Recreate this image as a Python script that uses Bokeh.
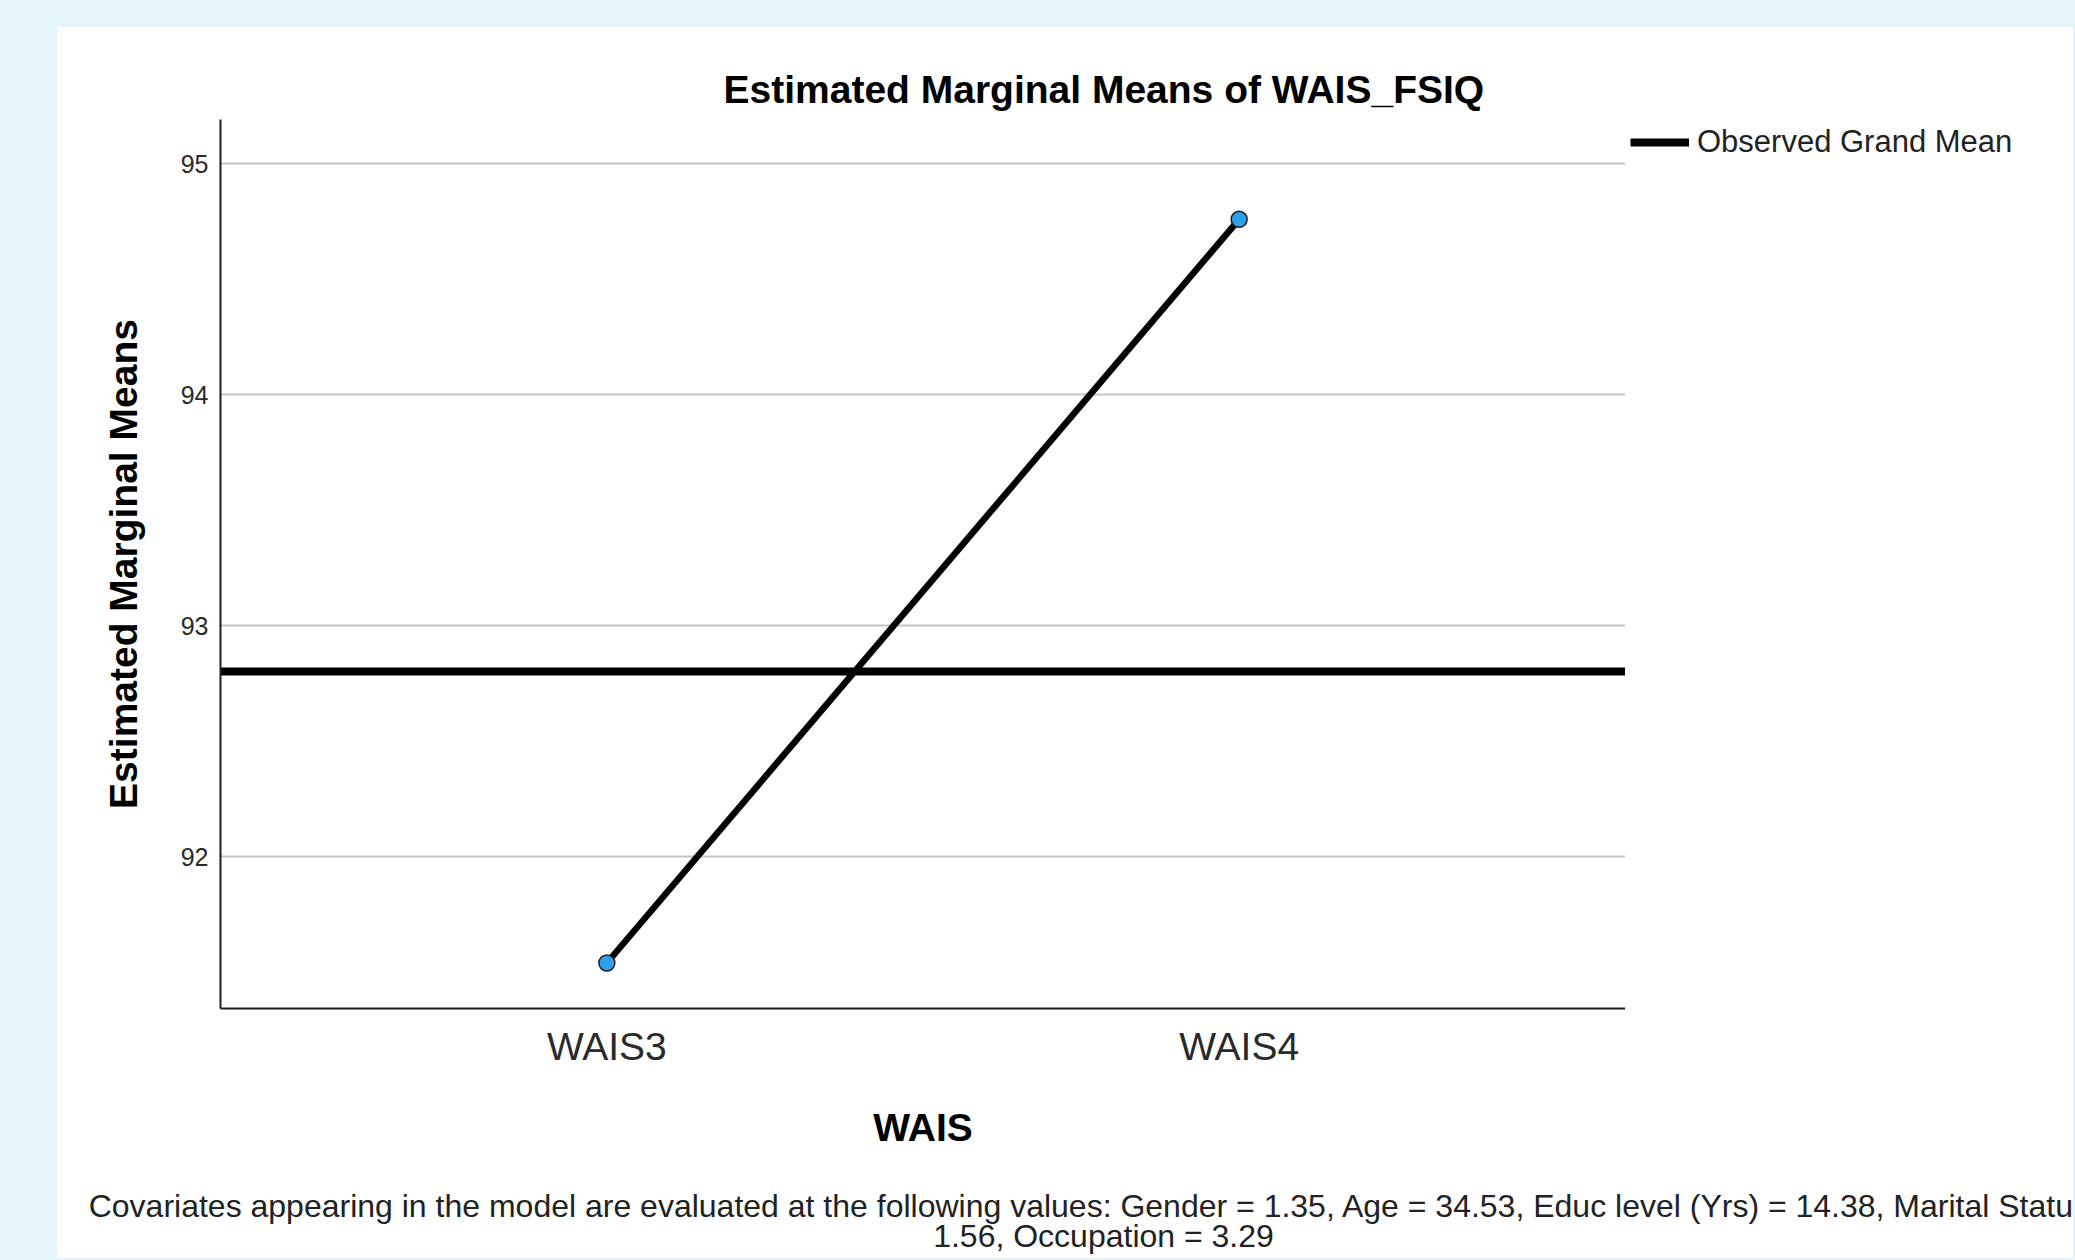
from bokeh.plotting import figure
from bokeh.models import FactorRange, Range1d, Legend, LegendItem, Label, GlobalInlineStyleSheet
from bokeh.layouts import column, row
from bokeh.embed import file_html
from bokeh.resources import INLINE

# ---- data ----
categories = ["WAIS3", "WAIS4"]
means = [91.54, 94.76]
grand_mean = 92.80
y_ticks = [92, 93, 94, 95]
title_text = "Estimated Marginal Means of WAIS_FSIQ"
x_label = "WAIS"
y_label = "Estimated Marginal Means"
legend_label = "Observed Grand Mean"
footer_lines = [
    "Covariates appearing in the model are evaluated at the following values: Gender = 1.35, Age = 34.53, Educ level (Yrs) = 14.38, Marital Status =",
    "1.56, Occupation = 3.29",
]

FONT = "Liberation Sans"
TOTAL_W = 2016
MAIN_W, MAIN_H = 1568, 1140
FOOT_H = 91
BORDER_TOP, BORDER_BOTTOM = 92, MAIN_H - 981

# ---------------- main chart ----------------
main = figure(
    width=MAIN_W, height=MAIN_H,
    x_range=FactorRange(*categories, range_padding=0.111),
    y_range=Range1d(91.343, 95.192),
    output_backend="svg", toolbar_location=None,
    min_border_left=163, min_border_right=0, min_border_top=BORDER_TOP, min_border_bottom=BORDER_BOTTOM,
    border_fill_color="white", background_fill_color="white", outline_line_color=None,
)

main.title.text = title_text
main.title.align = "left"
main.title.offset = 503
main.title.standoff = 17
main.title.text_font = FONT
main.title.text_font_style = "bold"
main.title.text_font_size = "39px"
main.title.text_color = "#000000"

for ax in (main.xaxis[0], main.yaxis[0]):
    ax.axis_line_color = "#1e1e1e"
    ax.axis_line_width = 2
    ax.major_tick_line_color = None
    ax.minor_tick_line_color = None
    ax.major_tick_out = 0
    ax.major_label_text_font = FONT
    ax.major_label_text_color = "#2a2a2a"
    ax.axis_label_text_font = FONT
    ax.axis_label_text_font_style = "bold"
    ax.axis_label_text_font_size = "39px"
    ax.axis_label_text_color = "#000000"

main.yaxis.ticker = y_ticks
main.yaxis.major_label_text_font_size = "25px"
main.yaxis.major_label_standoff = 12
main.yaxis.axis_label = y_label
main.yaxis.axis_label_standoff = 33

main.xaxis.major_label_text_font_size = "39px"
main.xaxis.major_label_standoff = 16
main.xaxis.axis_label = x_label
main.xaxis.axis_label_standoff = 35

main.xgrid.grid_line_color = None
main.ygrid.grid_line_color = "#c4c4c4"
main.ygrid.grid_line_width = 2

main.hspan(y=[grand_mean], line_width=8, line_color="black")
main.line(x=categories, y=means, line_width=6.5, line_color="black")
main.scatter(x=categories, y=means, size=16, fill_color="#2e9fe8", line_color="#1e1e1e", line_width=1.5)

# ---------------- legend strip (right of the plot area) ----------------
LEG_W = TOTAL_W - MAIN_W
leg = figure(
    width=LEG_W, height=MAIN_H, x_range=Range1d(0, 1), y_range=Range1d(0, 1),
    x_axis_type=None, y_axis_type=None,
    output_backend="svg", toolbar_location=None,
    min_border_left=0, min_border_top=BORDER_TOP, min_border_right=0, min_border_bottom=BORDER_BOTTOM,
    border_fill_color="white", background_fill_color="white", outline_line_color=None,
)
gm_key = leg.hspan(y=[grand_mean], line_width=8, line_color="black")  # outside the strip's range: key only
legend = Legend(
    items=[LegendItem(label=legend_label, renderers=[gm_key])],
    location="top_left", margin=5, padding=0, spacing=0,
    border_line_color=None, background_fill_alpha=0,
    glyph_width=59, glyph_height=34, label_height=34, label_standoff=8,
    label_text_font=FONT, label_text_font_size="31px", label_text_color="#222222",
)
leg.add_layout(legend, "center")

# ---------------- footer note ----------------
foot = figure(
    width=TOTAL_W, height=FOOT_H, x_range=Range1d(0, 1), y_range=Range1d(0, 1),
    x_axis_type=None, y_axis_type=None,
    output_backend="svg", toolbar_location=None, min_border=0,
    border_fill_color="white", background_fill_color="white", outline_line_color=None,
)
for txt, yy in zip(footer_lines, (53, 23)):
    foot.add_layout(Label(x=1046, y=yy, x_units="screen", y_units="screen", text=txt,
                          text_align="center", text_baseline="alphabetic",
                          text_font=FONT, text_font_size="32px", text_color="#222222"))

p = column(row(main, leg, spacing=0), foot, spacing=0)
p.margin = (27, 0, 0, 57)
p.styles = {"background-color": "white"}
p.stylesheets = [GlobalInlineStyleSheet(css="html, body { background-color: #e3f5f9; }")]

open("out.html", "w").write(file_html(p, INLINE))
